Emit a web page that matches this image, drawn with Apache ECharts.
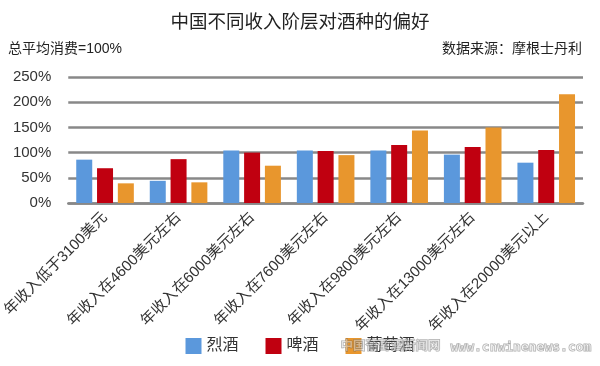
<!DOCTYPE html>
<html><head><meta charset="utf-8">
<script src="https://cdn.jsdelivr.net/npm/echarts@6/dist/echarts.min.js"></script>
<style>html,body{margin:0;padding:0;background:#fff}#c{width:600px;height:366px}</style>
</head><body><div id="c"></div>
<script>
var categories = ['年收入低于3100美元','年收入在4600美元左右','年收入在6000美元左右','年收入在7600美元左右','年收入在9800美元左右','年收入在13000美元左右','年收入在20000美元以上'];
var spirits = [86, 44, 104, 104, 104, 96, 80];
var beer = [69, 87, 100, 103, 115, 111, 105];
var wine = [39, 41, 74, 95, 144, 150, 216];
var seriesNames = ['烈酒','啤酒','葡萄酒'];
var yTicks = [0, 50, 100, 150, 200, 250];

var FONT = '"Liberation Sans", Arial, "Noto Sans CJK SC", sans-serif';
var chart = echarts.init(document.getElementById('c'), null, {renderer:'canvas'});
chart.setOption({
  animation: false,
  textStyle: {fontFamily: FONT},
  title: [
    {text: '中国不同收入阶层对酒种的偏好', left: 'center', top: 9,
     textStyle: {fontSize: 18.5, fontWeight: 'normal', color: '#222', fontFamily: FONT}},
  ],
  graphic: [
    {type:'text', left: 8, top: 42, style:{text:'总平均消费=100%', font:'14px ' + FONT, fill:'#222'}},
    {type:'text', right: 18, top: 42, style:{text:'数据来源：摩根士丹利', font:'14px ' + FONT, fill:'#222'}},
    {type:'text', left: 340, top: 340, z: 100, style:{text:'中国葡萄酒新闻网', font:'bold 12.5px ' + FONT, fill:'rgba(255,255,255,0.4)', stroke:'rgba(90,90,90,0.5)', lineWidth: 1}},
    {type:'text', left: 450, top: 341, z: 100, style:{text:'www.cnwinenews.com', font:'bold 13px "DejaVu Sans Mono", monospace', fill:'rgba(255,255,255,0.4)', stroke:'rgba(90,90,90,0.5)', lineWidth: 1}}
  ],
  legend: {
    data: seriesNames, bottom: 7, left: 'center', itemWidth: 16, itemHeight: 16, itemGap: 27,
    icon: 'rect', textStyle: {fontSize: 16, color: '#333', fontFamily: FONT}
  },
  grid: {left: 65, right: 17, top: 77, bottom: 163, containLabel: false},
  xAxis: {
    type: 'category', data: categories,
    axisLine: {show: true, lineStyle: {color: '#888', width: 2.5}},
    axisTick: {show: false},
    axisLabel: {rotate: 45, interval: 0, fontSize: 15, color: '#333', margin: 12, fontFamily: FONT}
  },
  yAxis: {
    type: 'value', min: 0, max: 250, interval: 50,
    axisLine: {show: false}, axisTick: {show: false},
    axisLabel: {formatter: function(v){ return yTicks.indexOf(v) >= 0 ? v + '%' : ''; }, fontSize: 15, color: '#333', margin: 17},
    splitLine: {lineStyle: {color: '#888', width: 2.5}}
  },
  series: [
    {name: seriesNames[0], type: 'bar', data: spirits, barWidth: 16, barGap: '30%', itemStyle: {color: '#5b98dc'}},
    {name: seriesNames[1], type: 'bar', data: beer, barWidth: 16, barGap: '30%', itemStyle: {color: '#c00010'}},
    {name: seriesNames[2], type: 'bar', data: wine, barWidth: 16, barGap: '30%', itemStyle: {color: '#e8962d'}}
  ]
});
</script></body></html>
